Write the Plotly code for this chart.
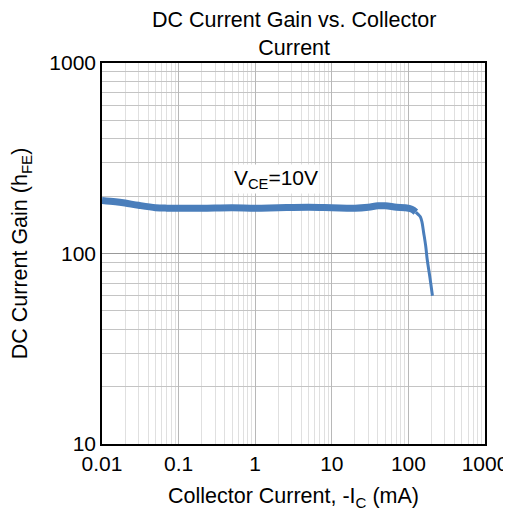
import plotly.graph_objects as go

# Main (thick) part of the curve
ic_main = [0.01, 0.015, 0.02, 0.03, 0.05, 0.07, 0.1, 0.2, 0.5, 1, 2, 5, 10, 20, 30, 40, 50, 70, 90, 110, 125]
hfe_main = [190, 187, 184, 179, 174, 173, 173, 173, 174, 173, 174, 175, 174, 173, 175, 178, 178, 175, 174, 171, 165]
# Steep tail (thinner)
ic_tail = [125, 135, 143, 150, 158, 168, 176, 190, 206]
hfe_tail = [165, 160, 156, 147, 129, 110, 93, 76, 60]

fig = go.Figure()
fig.add_trace(go.Scatter(x=ic_main, y=hfe_main, mode="lines",
                         line=dict(color="#4a7ebb", width=7, shape="spline"),
                         showlegend=False, hoverinfo="skip"))
fig.add_trace(go.Scatter(x=ic_tail, y=hfe_tail, mode="lines",
                         line=dict(color="#4a7ebb", width=3, shape="spline"),
                         showlegend=False, hoverinfo="skip"))

fig.add_annotation(x=0.27, y=2.392, xref="x", yref="y",
                   text="V<sub>CE</sub>=10V", showarrow=False,
                   font=dict(size=21, color="#000"), bgcolor="white")

fig.add_annotation(x=0.5, y=1, xref="paper", yref="paper", xanchor="center", yanchor="bottom",
                   yshift=1, showarrow=False,
                   text="DC Current Gain vs. Collector<br>Current",
                   font=dict(size=21.5, color="#000"))

fig.update_layout(
    width=503, height=507,
    margin=dict(l=94, r=26, t=55, b=71),
    paper_bgcolor="white", plot_bgcolor="white",
    font=dict(family="Liberation Sans, Arial, sans-serif", size=21, color="#000"),
)
fig.update_xaxes(type="log", range=[-2, 3], dtick=1, automargin=False,
                 tickvals=[0.01, 0.1, 1, 10, 100, 1000],
                 ticktext=["0.01", "0.1", "1", "10", "100", "1000"],
                 showline=True, linecolor="#000", linewidth=1.5, mirror=True,
                 showgrid=True, gridcolor="#b8b8b8", gridwidth=1,
                 ticks="", zeroline=False, tickfont=dict(size=21),
                 minor=dict(dtick="D1", showgrid=True, gridcolor="#e0e0e0", gridwidth=1, ticks=""),
                 title=dict(text="Collector Current, -I<sub>C</sub> (mA)", standoff=14,
                            font=dict(size=21.5)))
fig.update_yaxes(type="log", range=[1, 3], dtick=1, automargin=False,
                 tickvals=[10, 100, 1000], ticktext=["10", "100", "1000"],
                 showline=True, linecolor="#000", linewidth=1.5, mirror=True,
                 showgrid=True, gridcolor="#999999", gridwidth=1,
                 ticks="", zeroline=False, tickfont=dict(size=21),
                 minor=dict(dtick="D1", showgrid=True, gridcolor="#c4c4c4", gridwidth=1, ticks=""),
                 title=dict(text="DC Current Gain (h<sub>FE</sub>)", standoff=18,
                            font=dict(size=21.5)))

fig.write_html("out.html")
